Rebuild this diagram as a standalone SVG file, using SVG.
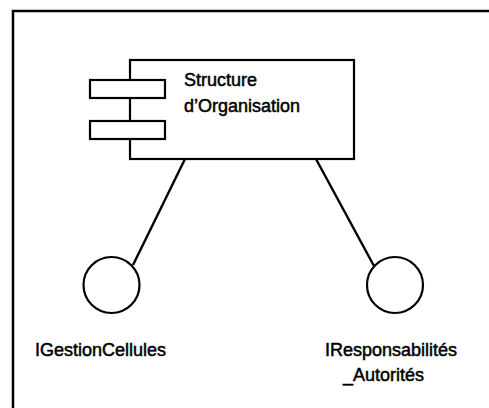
<svg xmlns="http://www.w3.org/2000/svg" width="489" height="408" viewBox="0 0 489 408">
<style>
.s{fill:#fff;stroke:#000;stroke-width:2.2}
.t{font-family:"Liberation Sans",Arial,sans-serif;font-size:18px;fill:#000;stroke:#000;stroke-width:0.5}
.c{stroke:#000;stroke-width:2.4;fill:none}
</style>
<rect width="489" height="408" fill="#fff"/>
<g id="frame"><rect x="13" y="11" width="500" height="420" fill="none" stroke="#000" stroke-width="2.5"/></g>
<g id="connectors">
<line class="c" x1="185" y1="159" x2="133" y2="265"/>
<line class="c" x1="316" y1="159" x2="374" y2="266"/>
</g>
<g id="component">
<rect class="s" x="130" y="60" width="224" height="99"/>
<rect class="s" x="90" y="80" width="75" height="18"/>
<rect class="s" x="90" y="121" width="75" height="18"/>
<text class="t" x="184" y="86">Structure</text>
<text class="t" x="184" y="112">d’Organisation</text>
</g>
<g id="IGestionCellules">
<circle class="s" cx="111.5" cy="285" r="28"/>
<text class="t" x="35" y="356">IGestionCellules</text>
</g>
<g id="IResponsabilites">
<circle class="s" cx="395" cy="285" r="28"/>
<text class="t" x="325" y="356">IResponsabilités</text>
<text class="t" x="343" y="381">_Autorités</text>
</g>
</svg>
